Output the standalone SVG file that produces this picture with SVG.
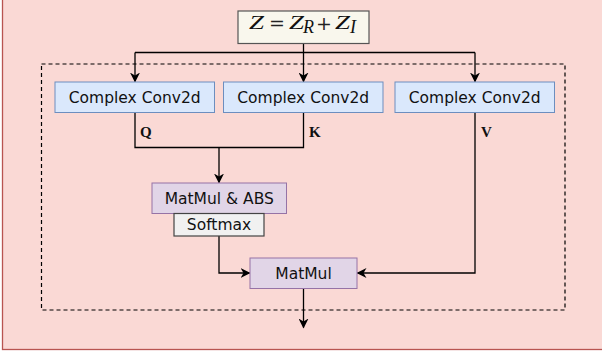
<svg xmlns="http://www.w3.org/2000/svg" width="602" height="359" viewBox="0 0 602 359">
<defs>
<marker id="ah" viewBox="0 0 10 10" refX="9" refY="5" markerWidth="10" markerHeight="10" markerUnits="userSpaceOnUse" orient="auto">
<path d="M0,0 L10,5 L0,10 L3,5 Z" fill="#000"/>
</marker>
</defs>
<style>
.conv rect{fill:#dae8fc;stroke:#6c8ebf;stroke-width:1}
.purple rect{fill:#e1d5e7;stroke:#9673a6;stroke-width:1}
.t{font-family:"DejaVu Sans",Verdana,sans-serif;font-size:15.5px;fill:#111;text-anchor:middle}
.lbl{font-family:"Liberation Serif","Times New Roman",serif;font-weight:bold;font-size:15px;fill:#111}
.ln{fill:none;stroke:#000;stroke-width:1.3}
.m{font-family:"Liberation Serif","Times New Roman",serif;font-size:18px;fill:#111}
.mi{font-style:italic}
.op{font-family:"DejaVu Serif",serif;font-size:19px;fill:#222;text-anchor:middle}
</style>
<rect x="2.5" y="-10" width="620" height="359.5" fill="#fad9d5" stroke="#b85450" stroke-width="1.3"/>
<rect id="group" x="41.5" y="64" width="523.5" height="246" fill="none" stroke="#000" stroke-width="1.2" stroke-dasharray="4 3"/>
<g id="connectors">
<path class="ln" d="M303.5 43.5 V52.5"/>
<path class="ln" d="M135 52.5 H475"/>
<path class="ln" d="M135 52.5 V81.5" marker-end="url(#ah)"/>
<path class="ln" d="M303.5 52.5 V81.5" marker-end="url(#ah)"/>
<path class="ln" d="M475 52.5 V81.5" marker-end="url(#ah)"/>
<path class="ln" d="M135 112.5 V147.5 H303.5 V112.5"/>
<path class="ln" d="M219 147.5 V182.5" marker-end="url(#ah)"/>
<path class="ln" d="M219 236 V273 H249.5" marker-end="url(#ah)"/>
<path class="ln" d="M475 112.5 V273 H357.5" marker-end="url(#ah)"/>
<path class="ln" d="M303.5 288.5 V327.5" marker-end="url(#ah)"/>
<text class="lbl" x="140" y="137">Q</text>
<text class="lbl" x="309" y="137">K</text>
<text class="lbl" x="481" y="137">V</text>
</g>
<g id="input">
<rect x="238" y="11" width="131" height="32.5" fill="#f9f7ed" stroke="#555" stroke-width="1.2"/>
<text class="m mi" x="249" y="29" textLength="15" lengthAdjust="spacingAndGlyphs">Z</text>
<text class="op" x="277" y="29.5">=</text>
<text class="m mi" x="289" y="29" textLength="15" lengthAdjust="spacingAndGlyphs">Z</text>
<text class="m mi" x="303" y="32.5" font-size="13">R</text>
<text class="op" x="324" y="29.5">+</text>
<text class="m mi" x="335" y="29" textLength="15" lengthAdjust="spacingAndGlyphs">Z</text>
<text class="m mi" x="350" y="32.5" font-size="13">I</text>
</g>
<g id="convQ" class="conv">
<rect x="55" y="82" width="159.5" height="30.5"/>
<text class="t" x="134.75" y="102.5">Complex Conv2d</text>
</g>
<g id="convK" class="conv">
<rect x="223.5" y="82" width="159.5" height="30.5"/>
<text class="t" x="303.25" y="102.5">Complex Conv2d</text>
</g>
<g id="convV" class="conv">
<rect x="395" y="82" width="159.5" height="30.5"/>
<text class="t" x="474.75" y="102.5">Complex Conv2d</text>
</g>
<g id="matmulabs" class="purple">
<rect x="152" y="183" width="134.5" height="30.5"/>
<text class="t" x="219.25" y="203.5">MatMul &amp; ABS</text>
</g>
<g id="softmax">
<rect x="174" y="213.5" width="90" height="22.5" fill="#f1f1f1" stroke="#444" stroke-width="1.2"/>
<text class="t" x="219" y="230">Softmax</text>
</g>
<g id="matmul" class="purple">
<rect x="250" y="258" width="107" height="30.5"/>
<text class="t" x="303.5" y="278.5">MatMul</text>
</g>
</svg>
